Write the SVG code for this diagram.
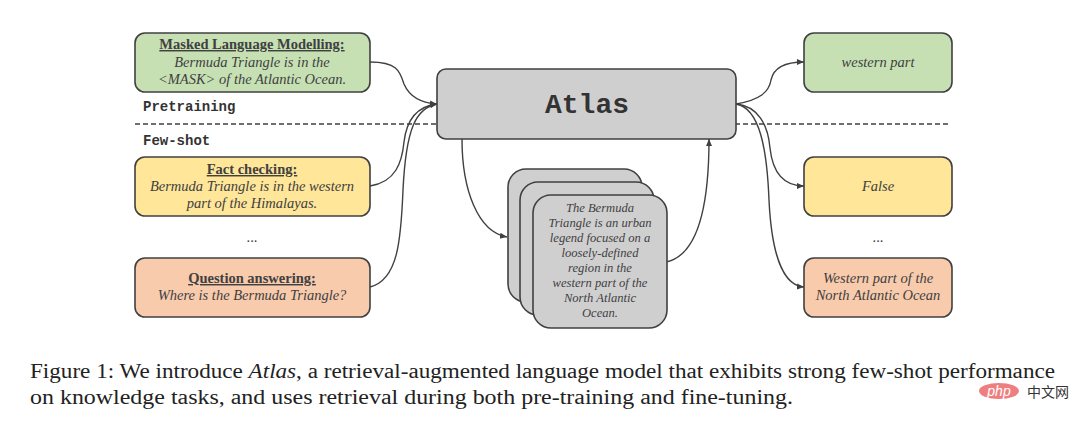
<svg xmlns="http://www.w3.org/2000/svg" width="1080" height="423" viewBox="0 0 1080 423">
<defs>
<style>
.box{stroke:#404040;stroke-width:1.6}
.green{fill:#c6e0b4}
.yellow{fill:#ffe699}
.orange{fill:#f8cbad}
.gray{fill:#d0cfd0}
.t{font-family:"Liberation Serif","Times New Roman",serif;font-size:14.5px;fill:#404040;text-anchor:middle}
.i{font-style:italic}
.h{font-weight:bold;text-decoration:underline}
.doc{font-family:"Liberation Serif","Times New Roman",serif;font-size:12.6px;font-style:italic;fill:#404040;text-anchor:middle}
.mono{font-family:"Liberation Mono","Courier New",monospace;font-weight:bold;fill:#333}
.conn{fill:none;stroke:#404040;stroke-width:1.4}
.cap{font-family:"Liberation Serif","Times New Roman",serif;font-size:20px;fill:#222}
</style>
<marker id="ah" markerWidth="8" markerHeight="8" refX="7" refY="4" orient="auto" markerUnits="userSpaceOnUse">
<path d="M0,1 L7,4 L0,7 Z" fill="#404040"/>
</marker>
</defs>
<rect width="1080" height="423" fill="#ffffff"/>

<line x1="135" y1="124" x2="950" y2="124" stroke="#404040" stroke-width="1.4" stroke-dasharray="5,3"/>
<text class="mono" x="143" y="111" font-size="14">Pretraining</text>
<text class="mono" x="143" y="145" font-size="14">Few-shot</text>

<g id="connectors">
<path class="conn" marker-end="url(#ah)" d="M370,62 C398,62 400,72 404,84 C410,98 422,103 437,104"/>
<path class="conn" marker-end="url(#ah)" d="M370,186 C396,182 402,162 404,142 C407,116 420,106 437,104"/>
<path class="conn" marker-end="url(#ah)" d="M370,287 C398,280 401,240 403,190 C406,128 416,108 437,104"/>
<path class="conn" marker-end="url(#ah)" d="M462,139 C462,190 478,232 507,237"/>
<path class="conn" marker-end="url(#ah)" d="M666,262 C700,255 709,200 709,139"/>
<path class="conn" marker-end="url(#ah)" d="M736,104 C760,100 769,92 771,80 C774,66 788,62 804,62"/>
<path class="conn" marker-end="url(#ah)" d="M736,104 C758,106 768,125 770,148 C773,176 786,186 804,186"/>
<path class="conn" marker-end="url(#ah)" d="M736,104 C760,108 767,150 769,200 C772,262 786,286 804,287"/>
</g>

<g id="mlm">
<rect class="box green" x="135" y="33" width="235" height="59" rx="10"/>
<text class="t h" x="252" y="49">Masked Language Modelling:</text>
<text class="t i" x="252" y="67">Bermuda Triangle is in the</text>
<text class="t i" x="252" y="84">&lt;MASK&gt; of the Atlantic Ocean.</text>
</g>

<g id="fact">
<rect class="box yellow" x="135" y="157" width="235" height="59" rx="10"/>
<text class="t h" x="252" y="174">Fact checking:</text>
<text class="t i" x="252" y="191">Bermuda Triangle is in the western</text>
<text class="t i" x="252" y="208">part of the Himalayas.</text>
</g>

<text class="t" x="252" y="242">...</text>

<g id="qa">
<rect class="box orange" x="135" y="258" width="235" height="59" rx="10"/>
<text class="t h" x="252" y="283">Question answering:</text>
<text class="t i" x="252" y="300">Where is the Bermuda Triangle?</text>
</g>

<g id="atlas">
<rect class="box gray" x="437" y="69" width="299" height="70" rx="9"/>
<text class="mono" x="587" y="113" font-size="28" text-anchor="middle">Atlas</text>
</g>

<g id="docs">
<rect class="box gray" x="508" y="169" width="134" height="133" rx="18"/>
<rect class="box gray" x="520" y="182" width="134" height="133" rx="18"/>
<rect class="box gray" x="533" y="195" width="134" height="133" rx="18"/>
<text class="doc" x="600" y="212">The Bermuda</text>
<text class="doc" x="600" y="227">Triangle is an urban</text>
<text class="doc" x="600" y="242">legend focused on a</text>
<text class="doc" x="600" y="257">loosely-defined</text>
<text class="doc" x="600" y="272">region in the</text>
<text class="doc" x="600" y="287">western part of the</text>
<text class="doc" x="600" y="302">North Atlantic</text>
<text class="doc" x="600" y="317">Ocean.</text>
</g>

<g id="out-mlm">
<rect class="box green" x="804" y="33" width="148" height="59" rx="10"/>
<text class="t i" x="878" y="67">western part</text>
</g>

<g id="out-fact">
<rect class="box yellow" x="804" y="157" width="148" height="59" rx="10"/>
<text class="t i" x="878" y="191">False</text>
</g>

<text class="t" x="878" y="242">...</text>

<g id="out-qa">
<rect class="box orange" x="804" y="258" width="148" height="59" rx="10"/>
<text class="t i" x="878" y="283">Western part of the</text>
<text class="t i" x="878" y="300">North Atlantic Ocean</text>
</g>

<text class="cap" x="30" y="378" textLength="1025" lengthAdjust="spacingAndGlyphs">Figure 1: We introduce <tspan font-style="italic">Atlas</tspan>, a retrieval-augmented language model that exhibits strong few-shot performance</text>
<text class="cap" x="30" y="404" textLength="763" lengthAdjust="spacingAndGlyphs">on knowledge tasks, and uses retrieval during both pre-training and fine-tuning.</text>

<ellipse cx="999" cy="391" rx="20" ry="8" fill="#ef7f7f"/>
<text x="999" y="396" font-family="'Liberation Sans',Arial,sans-serif" font-size="14" font-style="italic" fill="#ffffff" text-anchor="middle">php</text>
<text x="1027" y="397" font-family="'Noto Sans CJK SC',sans-serif" font-size="14" fill="#333">中文网</text>
</svg>
